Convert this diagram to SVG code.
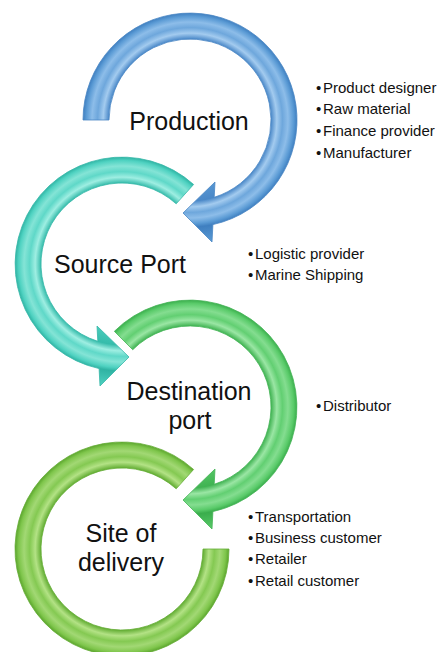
<svg xmlns="http://www.w3.org/2000/svg" width="441" height="652" viewBox="0 0 441 652">
  <style>
    .lbl { font-family: "Liberation Sans", Arial, sans-serif; font-size: 25px; fill: #111; text-anchor: middle; }
    .bul { font-family: "Liberation Sans", Arial, sans-serif; font-size: 15px; fill: #111; }
    .arrow { stroke-width: 0.8; stroke-linejoin: round; }
  </style>
  <defs>
    <radialGradient id="gBlue" gradientUnits="userSpaceOnUse" cx="0" cy="0" r="124">
      <stop offset="0.5" stop-color="#5b9bd5"/>
      <stop offset="0.653" stop-color="#4a88c8"/>
      <stop offset="0.70" stop-color="#a3cbef"/>
      <stop offset="0.745" stop-color="#6ea7dc"/>
      <stop offset="0.79" stop-color="#8dbde9"/>
      <stop offset="0.835" stop-color="#5b9bd5"/>
      <stop offset="0.863" stop-color="#3f7fc0"/>
      <stop offset="1" stop-color="#5b9bd5"/>
    </radialGradient>
    <radialGradient id="gTeal" gradientUnits="userSpaceOnUse" cx="0" cy="0" r="124">
      <stop offset="0.5" stop-color="#4fd2c1"/>
      <stop offset="0.653" stop-color="#36bcab"/>
      <stop offset="0.70" stop-color="#9eeee2"/>
      <stop offset="0.745" stop-color="#5fd8c8"/>
      <stop offset="0.79" stop-color="#84e4d6"/>
      <stop offset="0.835" stop-color="#4fd2c1"/>
      <stop offset="0.863" stop-color="#2fb3a3"/>
      <stop offset="1" stop-color="#4fd2c1"/>
    </radialGradient>
    <radialGradient id="gGreen" gradientUnits="userSpaceOnUse" cx="0" cy="0" r="124">
      <stop offset="0.5" stop-color="#5acb6a"/>
      <stop offset="0.653" stop-color="#40b352"/>
      <stop offset="0.70" stop-color="#9ae6a4"/>
      <stop offset="0.745" stop-color="#62cf72"/>
      <stop offset="0.79" stop-color="#84dd90"/>
      <stop offset="0.835" stop-color="#5acb6a"/>
      <stop offset="0.863" stop-color="#3aad4c"/>
      <stop offset="1" stop-color="#5acb6a"/>
    </radialGradient>
    <radialGradient id="gLime" gradientUnits="userSpaceOnUse" cx="0" cy="0" r="124">
      <stop offset="0.5" stop-color="#7fc64c"/>
      <stop offset="0.653" stop-color="#62ad33"/>
      <stop offset="0.70" stop-color="#b3e285"/>
      <stop offset="0.745" stop-color="#84c952"/>
      <stop offset="0.79" stop-color="#a2d874"/>
      <stop offset="0.835" stop-color="#7fc64c"/>
      <stop offset="0.863" stop-color="#5ba52d"/>
      <stop offset="1" stop-color="#7fc64c"/>
    </radialGradient>
  </defs>

  <g id="connectors"></g>

  <g id="node-production">
    <path class="arrow" transform="translate(190,120)" fill="url(#gBlue)" stroke="#4a86c4"
      d="M -107,0 A 107 107 0 1 1 22.9,104.6 L 22,122 L -7,93 L 25,62 L 24.2,77.3 A 81 81 0 1 0 -81,0 Z"/>
    <text class="lbl" x="189" y="130">Production</text>
    <text class="bul" x="316" y="93">•<tspan x="323">Product designer</tspan></text>
    <text class="bul" x="316" y="114">•<tspan x="323">Raw material</tspan></text>
    <text class="bul" x="316" y="136">•<tspan x="323">Finance provider</tspan></text>
    <text class="bul" x="316" y="158">•<tspan x="323">Manufacturer</tspan></text>
  </g>

  <g id="node-source-port">
    <path class="arrow" transform="translate(122,264) scale(-1,1)" fill="url(#gTeal)" stroke="#36b8a8"
      d="M -71.6,-79.52 A 107 107 0 1 1 22.9,104.6 L 22,122 L -7,93 L 25,62 L 24.2,77.3 A 81 81 0 1 0 -54.2,-60.19 Z"/>
    <text class="lbl" x="120" y="273">Source Port</text>
    <text class="bul" x="248" y="259">•<tspan x="255">Logistic provider</tspan></text>
    <text class="bul" x="248" y="280">•<tspan x="255">Marine Shipping</tspan></text>
  </g>

  <g id="node-destination-port">
    <path class="arrow" transform="translate(190,407)" fill="url(#gGreen)" stroke="#44b455"
      d="M -75.66,-75.66 A 107 107 0 1 1 22.9,104.6 L 22,122 L -7,93 L 25,62 L 24.2,77.3 A 81 81 0 1 0 -57.28,-57.28 Z"/>
    <text class="lbl" x="189" y="400">Destination</text>
    <text class="lbl" x="190" y="429">port</text>
    <text class="bul" x="316" y="411">•<tspan x="323">Distributor</tspan></text>
  </g>

  <g id="node-site-of-delivery">
    <path class="arrow" transform="translate(122,549) scale(-1,1)" fill="url(#gLime)" stroke="#66ad37"
      d="M -71.6,-79.52 A 107 107 0 1 1 -107,0 L -81,0 A 81 81 0 1 0 -54.2,-60.19 Z"/>
    <text class="lbl" x="121" y="542">Site of</text>
    <text class="lbl" x="121" y="571">delivery</text>
    <text class="bul" x="248" y="522">•<tspan x="255">Transportation</tspan></text>
    <text class="bul" x="248" y="543">•<tspan x="255">Business customer</tspan></text>
    <text class="bul" x="248" y="564">•<tspan x="255">Retailer</tspan></text>
    <text class="bul" x="248" y="586">•<tspan x="255">Retail customer</tspan></text>
  </g>
</svg>
